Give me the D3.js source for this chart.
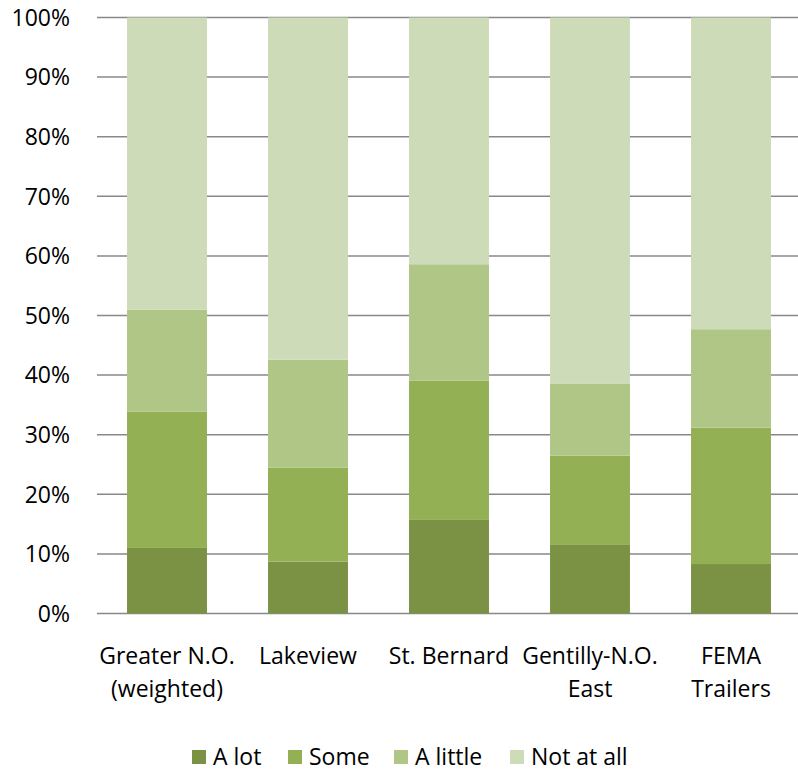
<!DOCTYPE html>
<html><head><meta charset="utf-8">
<script src="https://cdn.jsdelivr.net/npm/d3@7"></script>
<style>body{margin:0;background:#fff}svg{display:block}text{font-family:"Open Sans",Lato,sans-serif;fill:#000}</style>
</head><body><svg id="c" width="798" height="771"></svg>
<script>
const categories = [["Greater N.O.","(weighted)"],["Lakeview"],["St. Bernard"],["Gentilly-N.O.","East"],["FEMA","Trailers"]];
const seriesNames = ["A lot","Some","A little","Not at all"];
const aLot = [11.0, 8.7, 15.7, 11.5, 8.3];
const some = [22.9, 15.8, 23.4, 15.0, 22.9];
const aLittle = [17.1, 18.1, 19.5, 12.1, 16.5];
const notAtAll = [49.0, 57.4, 41.4, 61.4, 52.3];
const colors = ["#7b9245","#93b055","#afc686","#cedbb9"];
const yTicks = [0,10,20,30,40,50,60,70,80,90,100];
const FS = "23px";

const svg = d3.select("#c");
const rows = categories.map((c,i)=>({key:i, "A lot":aLot[i], "Some":some[i], "A little":aLittle[i], "Not at all":notAtAll[i]}));
const x = d3.scaleBand().domain(rows.map(r=>r.key)).range([96.5, 801.5]).paddingInner(0.433).paddingOuter(0.2165);
const y = d3.scaleLinear().domain([0,100]).range([613.5, 17.5]);

svg.append("g").selectAll("line").data(yTicks).join("line")
  .attr("x1", 97).attr("x2", 798)
  .attr("y1", d=>y(d)).attr("y2", d=>y(d))
  .attr("stroke", "#888").attr("stroke-width", 1.5);

const stack = d3.stack().keys(seriesNames)(rows);
svg.append("g").selectAll("g").data(stack).join("g")
  .attr("fill", (d,i)=>colors[i])
  .selectAll("rect").data(d=>d).join("rect")
  .attr("x", d=>x(d.data.key))
  .attr("width", x.bandwidth())
  .attr("y", d=>y(d[1]))
  .attr("height", d=>y(d[0])-y(d[1]));

svg.append("g").selectAll("text").data(yTicks).join("text")
  .attr("x", 70).attr("y", d=>y(d)).attr("dy","0.36em")
  .attr("text-anchor","end").style("font-size",FS)
  .text(d=>d+"%");

const xl = svg.append("g").selectAll("text").data(categories).join("text")
  .attr("text-anchor","middle").style("font-size",FS)
  .attr("x", (d,i)=>x(i)+x.bandwidth()/2).attr("y", 664);
xl.selectAll("tspan").data(d=>d).join("tspan")
  .attr("x", function(){return d3.select(this.parentNode).attr("x");})
  .attr("dy", (d,j)=>j===0?0:33).text(d=>d);

const legX = [192, 288, 394, 510];
const lg = svg.append("g").selectAll("g").data(seriesNames).join("g")
  .attr("transform", (d,i)=>`translate(${legX[i]},750)`);
lg.append("rect").attr("width",14).attr("height",14).attr("fill",(d,i)=>colors[i]);
lg.append("text").attr("x",21).attr("y",7).attr("dy","0.36em").style("font-size",FS).text(d=>d);
</script></body></html>
